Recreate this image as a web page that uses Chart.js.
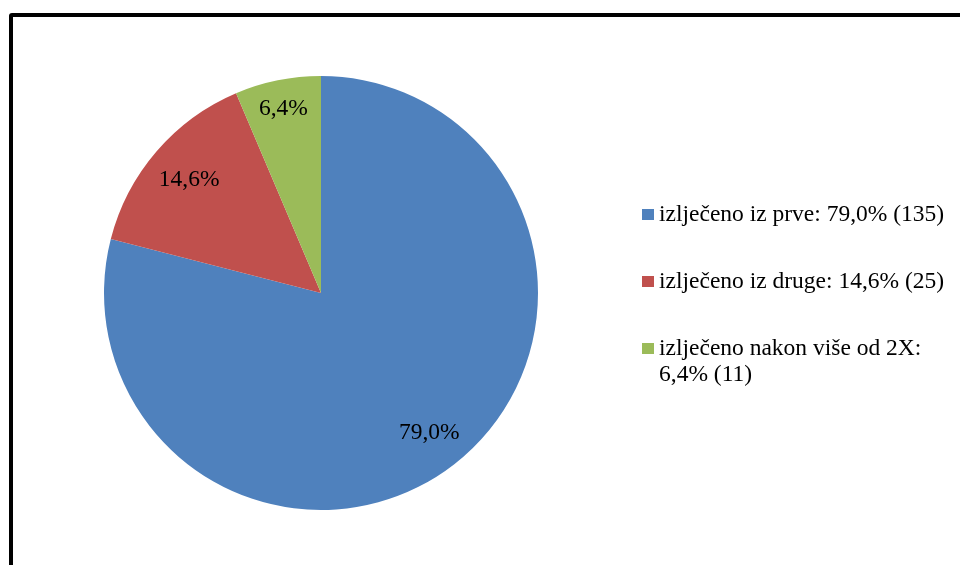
<!DOCTYPE html>
<html>
<head>
<meta charset="utf-8">
<script src="https://cdn.jsdelivr.net/npm/chart.js@4/dist/chart.umd.min.js"></script>
<style>
html,body{margin:0;padding:0;background:#fff;overflow:hidden;width:960px;height:565px;}
#frame{position:absolute;left:9px;top:13px;width:1000px;height:600px;border:4px solid #000;border-radius:3px;box-sizing:border-box;}
#wrap{position:absolute;left:0;top:0;width:960px;height:565px;}
</style>
</head>
<body>
<div id="frame"></div>
<div id="wrap"><canvas id="c" width="960" height="565"></canvas></div>
<script>
const categories = ["izlječeno iz prve", "izlječeno iz druge", "izlječeno nakon više od 2X"];
const percents = [79.0, 14.6, 6.4];
const counts = [135, 25, 11];
const colors = ["#4F81BD", "#C0504D", "#9BBB59"];

const fmtPct = v => v.toFixed(1).replace('.', ',') + '%';
const FONT = '23.5px "Liberation Serif", "Times New Roman", serif';

// Labels placed "inside end": text box kept a fixed inset from the arc along the mid-angle
const labelPlugin = {
  id: 'sliceLabels',
  afterDatasetsDraw(chart) {
    const ctx = chart.ctx;
    const meta = chart.getDatasetMeta(0);
    ctx.save();
    ctx.font = FONT;
    ctx.fillStyle = '#000';
    ctx.textAlign = 'center';
    ctx.textBaseline = 'middle';
    meta.data.forEach((arc, i) => {
      const p = arc.getProps(['x','y','startAngle','endAngle','outerRadius'], true);
      const mid = (p.startAngle + p.endAngle) / 2;
      const txt = fmtPct(percents[i]);
      const hw = ctx.measureText(txt).width / 2, hh = 11;
      const ext = Math.abs(Math.cos(mid)) * hw + Math.abs(Math.sin(mid)) * hh;
      const r = p.outerRadius - 13 - ext;
      ctx.fillText(txt, p.x + Math.cos(mid) * r, p.y + Math.sin(mid) * r);
    });
    ctx.restore();
  }
};

const legendPlugin = {
  id: 'wrapLegend',
  afterDraw(chart) {
    const ctx = chart.ctx;
    ctx.save();
    ctx.font = FONT;
    ctx.textBaseline = 'middle';
    ctx.textAlign = 'left';
    const x0 = 642, box = 12, tx = 659, maxW = 952 - tx, lineH = 26, itemGap = 67;
    let y = 214;
    categories.forEach((cat, i) => {
      const text = cat + ': ' + fmtPct(percents[i]) + ' (' + counts[i] + ')';
      const words = text.split(' ');
      const lines = [];
      let cur = '';
      words.forEach(w => {
        const t = cur ? cur + ' ' + w : w;
        if (ctx.measureText(t).width > maxW && cur) { lines.push(cur); cur = w; }
        else cur = t;
      });
      lines.push(cur);
      ctx.fillStyle = colors[i];
      ctx.fillRect(x0, y - 5, box, 11);
      ctx.fillStyle = '#000';
      lines.forEach((ln, k) => ctx.fillText(ln, tx, y + 1 + k * lineH));
      y += itemGap;
    });
    ctx.restore();
  }
};

new Chart(document.getElementById('c'), {
  type: 'pie',
  data: {
    labels: categories,
    datasets: [{
      data: percents,
      backgroundColor: colors,
      borderWidth: 0
    }]
  },
  options: {
    responsive: false,
    animation: false,
    layout: { padding: { left: 104, right: 422, top: 76, bottom: 55 } },
    plugins: { legend: { display: false }, tooltip: { enabled: false } }
  },
  plugins: [labelPlugin, legendPlugin]
});
</script>
</body>
</html>
